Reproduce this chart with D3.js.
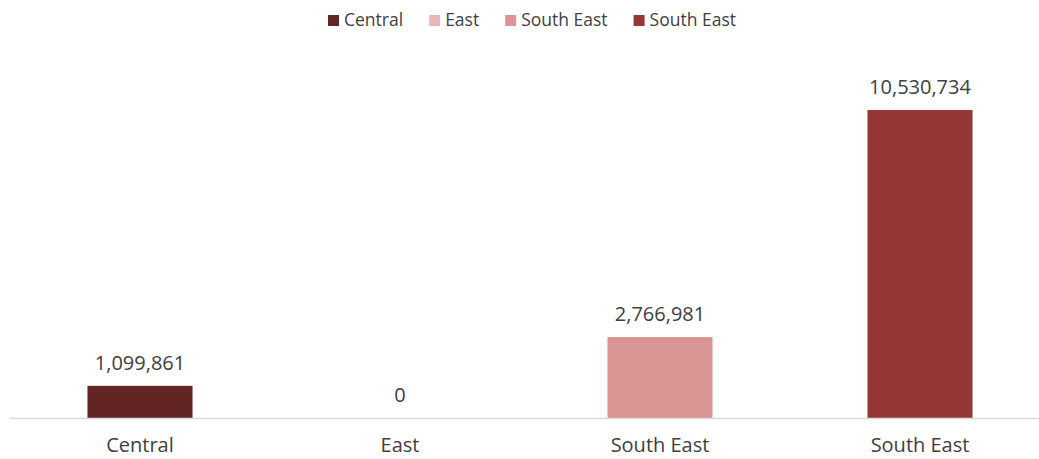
<!DOCTYPE html>
<html>
<head>
<meta charset="utf-8">
<script src="https://cdn.jsdelivr.net/npm/d3@7"></script>
<style>
  body { margin: 0; background: #fff; }
  text { font-family: "Open Sans", sans-serif; fill: #404040; }
</style>
</head>
<body>
<svg id="chart" width="1039" height="459"></svg>
<script>
// chart data
const categories = ["Central", "East", "South East", "South East"];
const values = [1099861, 0, 2766981, 10530734];
const seriesNames = ["Central", "East", "South East", "South East"];
const colors = ["#632523", "#E6B9B8", "#DA9694", "#953735"];

var svg = d3.select("#chart"),
    width = +svg.attr("width"),
    height = +svg.attr("height"),
    baseY = 418;

var x = d3.scaleBand()
    .domain(d3.range(categories.length))
    .range([10, 1050])
    .paddingInner(0.596)
    .paddingOuter(0.298);

var y = d3.scaleLinear()
    .domain([0, 12000000])
    .range([baseY, 67]);

// bars
svg.selectAll("rect.bar")
    .data(values)
    .enter().append("rect")
    .attr("class", "bar")
    .attr("x", (d, i) => x(i))
    .attr("width", x.bandwidth())
    .attr("y", d => y(d))
    .attr("height", d => baseY - y(d))
    .attr("fill", (d, i) => colors[i]);

// data labels
svg.selectAll("text.val")
    .data(values)
    .enter().append("text")
    .attr("class", "val")
    .attr("x", (d, i) => x(i) + x.bandwidth() / 2)
    .attr("y", d => y(d) - 16)
    .attr("text-anchor", "middle")
    .attr("font-size", 20)
    .text(d => d3.format(",")(d));

// x axis
var xAxis = svg.append("g")
    .attr("transform", "translate(0," + baseY + ")")
    .call(d3.axisBottom(x).tickSize(0).tickPadding(20).tickFormat(i => categories[i]));

xAxis.select(".domain")
    .attr("d", "M10,0.5H1039")
    .attr("stroke", "#d9d9d9")
    .attr("stroke-width", 1.5);

xAxis.selectAll("text")
    .attr("font-size", 20)
    .attr("font-family", "Open Sans, sans-serif")
    .attr("fill", "#404040");

// legend
var legend = svg.append("g").attr("class", "legend");
var items = legend.selectAll("g.item")
    .data(seriesNames)
    .enter().append("g")
    .attr("class", "item");

items.append("rect")
    .attr("width", 11)
    .attr("height", 11)
    .attr("y", 15)
    .attr("fill", (d, i) => colors[i]);

items.append("text")
    .attr("x", 16)
    .attr("y", 26)
    .attr("font-size", 17.5)
    .text(d => d);

var offset = 0;
items.each(function() {
    var g = d3.select(this);
    g.attr("transform", "translate(" + offset + ",0)");
    offset += 16 + g.select("text").node().getComputedTextLength() + 26;
});
var total = offset - 26;
legend.attr("transform", "translate(" + (532 - total / 2) + ",0)");
</script>
</body>
</html>
